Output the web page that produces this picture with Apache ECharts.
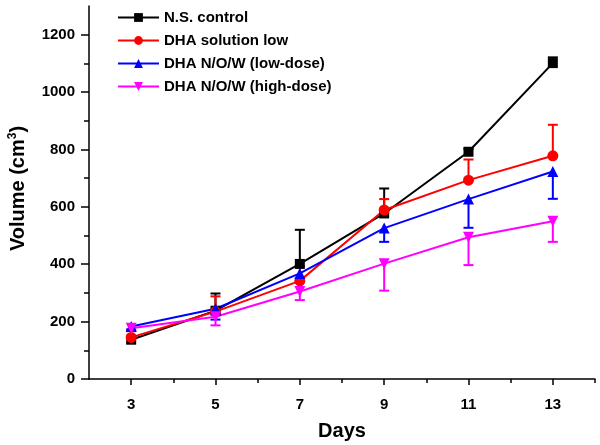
<!DOCTYPE html>
<html>
<head>
<meta charset="utf-8">
<script src="https://cdn.jsdelivr.net/npm/echarts@6/dist/echarts.min.js"></script>
<style>html,body{margin:0;padding:0;background:#fff}#c{width:600px;height:445px}</style>
</head>
<body>
<div id="c"></div>
<script>
const days = [3, 5, 7, 9, 11, 13];
const seriesNames = ['N.S. control', 'DHA solution low', 'DHA N/O/W (low-dose)', 'DHA N/O/W (high-dose)'];
const controlVals = [137, 238, 401, 577, 792, 1101];
const controlErr = [8, 60, 119, 87, 10, 20];
const solutionVals = [145, 235, 342, 589, 693, 778];
const solutionErr = [22, 53, 50, 38, 72, 108];
const lowDoseVals = [183, 245, 368, 526, 627, 723];
const lowDoseErr = [10, 38, 28, 48, 100, 95];
const highDoseVals = [177, 217, 305, 402, 494, 550];
const highDoseErr = [10, 30, 30, 94, 97, 72];
const errDirection = [1, 1, -1, -1]; // error bars drawn upward or downward
const yLabelTicks = [0, 200, 400, 600, 800, 1000, 1200];
const yMinorTicks = [100, 300, 500, 700, 900, 1100];
const xLabelTicks = [3, 5, 7, 9, 11, 13];
const xMinorTicks = [4, 6, 8, 10, 12, 14];

const colors = ['#000000', '#ff0000', '#0000ff', '#ff00ff'];
const symbols = ['rect', 'circle', 'triangle', 'triangle'];
const rotates = [0, 0, 0, 180];
const sizes = [10, 11, 11, 11];
const allVals = [controlVals, solutionVals, lowDoseVals, highDoseVals];
const allErr = [controlErr, solutionErr, lowDoseErr, highDoseErr];

const font = 'Liberation Sans, Arial, sans-serif';
const chart = echarts.init(document.getElementById('c'), null, {renderer: 'canvas'});

const series = [];
allVals.forEach((vals, i) => {
  series.push({
    name: seriesNames[i] + ' err',
    type: 'custom',
    xAxisIndex: 0, yAxisIndex: 0,
    silent: true,
    z: 2,
    data: days.map((d, k) => [d, vals[k], vals[k] + errDirection[i] * allErr[i][k]]),
    renderItem: function (params, api) {
      const p0 = api.coord([api.value(0), api.value(1)]);
      const p1 = api.coord([api.value(0), api.value(2)]);
      const hw = 5;
      return {
        type: 'group',
        children: [
          {type: 'line', shape: {x1: p0[0], y1: p0[1], x2: p1[0], y2: p1[1]}, style: {stroke: colors[i], lineWidth: 2}},
          {type: 'line', shape: {x1: p1[0] - hw, y1: p1[1], x2: p1[0] + hw, y2: p1[1]}, style: {stroke: colors[i], lineWidth: 2}}
        ]
      };
    }
  });
});
allVals.forEach((vals, i) => {
  series.push({
    name: seriesNames[i],
    type: 'line',
    xAxisIndex: 0, yAxisIndex: 0,
    z: 3,
    data: days.map((d, k) => [d, vals[k]]),
    symbol: symbols[i],
    symbolSize: sizes[i],
    symbolRotate: rotates[i],
    lineStyle: {color: colors[i], width: 2},
    itemStyle: {color: colors[i]},
    animation: false
  });
});

const option = {
  animation: false,
  backgroundColor: '#fff',
  grid: {left: 89, right: 5, top: 6, bottom: 66, containLabel: false, outerBoundsMode: 'none'},
  legend: {
    data: seriesNames,
    orient: 'vertical',
    left: 117, top: 10,
    padding: 0,
    itemWidth: 41, itemHeight: 11,
    itemGap: 8,
    textStyle: {fontFamily: font, fontWeight: 'bold', fontSize: 15, color: '#000'},
    selectedMode: false
  },
  xAxis: [{
    type: 'value', min: 2, max: 14, interval: 1,
    name: 'Days', nameLocation: 'middle', nameGap: 42,
    nameTextStyle: {fontFamily: font, fontWeight: 'bold', fontSize: 20, color: '#000'},
    axisLine: {show: true, onZero: false, lineStyle: {color: '#000', width: 1.5}},
    axisTick: {show: true, customValues: xLabelTicks, length: 6, lineStyle: {color: '#000', width: 1.5}},
    axisLabel: {customValues: xLabelTicks, margin: 18, fontFamily: font, fontWeight: 'bold', fontSize: 15, color: '#000',
      formatter: v => String(v)},
    splitLine: {show: false}
  }, {
    type: 'value', min: 2, max: 14, interval: 1, position: 'bottom',
    axisLine: {show: false},
    axisTick: {show: true, customValues: xMinorTicks, length: 4, lineStyle: {color: '#000', width: 1.5}},
    axisLabel: {show: false},
    splitLine: {show: false}
  }],
  yAxis: [{
    type: 'value', min: 0, max: 1300, interval: 100,
    name: 'Volume (cm{sup|3})', nameLocation: 'middle', nameGap: 58,
    nameTextStyle: {fontFamily: font, fontWeight: 'bold', fontSize: 20, color: '#000', lineHeight: 24,
      padding: [0, 0, 0, 8],
      rich: {sup: {fontFamily: font, fontWeight: 'bold', fontSize: 12, color: '#000', verticalAlign: 'top', lineHeight: 24}}},
    axisLine: {show: true, onZero: false, lineStyle: {color: '#000', width: 1.5}},
    axisTick: {show: true, customValues: yLabelTicks, length: 8, lineStyle: {color: '#000', width: 1.5}},
    axisLabel: {customValues: yLabelTicks, margin: 14, fontFamily: font, fontWeight: 'bold', fontSize: 15, color: '#000',
      formatter: v => String(v)},
    splitLine: {show: false}
  }, {
    type: 'value', min: 0, max: 1300, interval: 100, position: 'left',
    axisLine: {show: false},
    axisTick: {show: true, customValues: yMinorTicks, length: 5, lineStyle: {color: '#000', width: 1.5}},
    axisLabel: {show: false},
    splitLine: {show: false}
  }],
  series: series
};
chart.setOption(option);
</script>
</body>
</html>
